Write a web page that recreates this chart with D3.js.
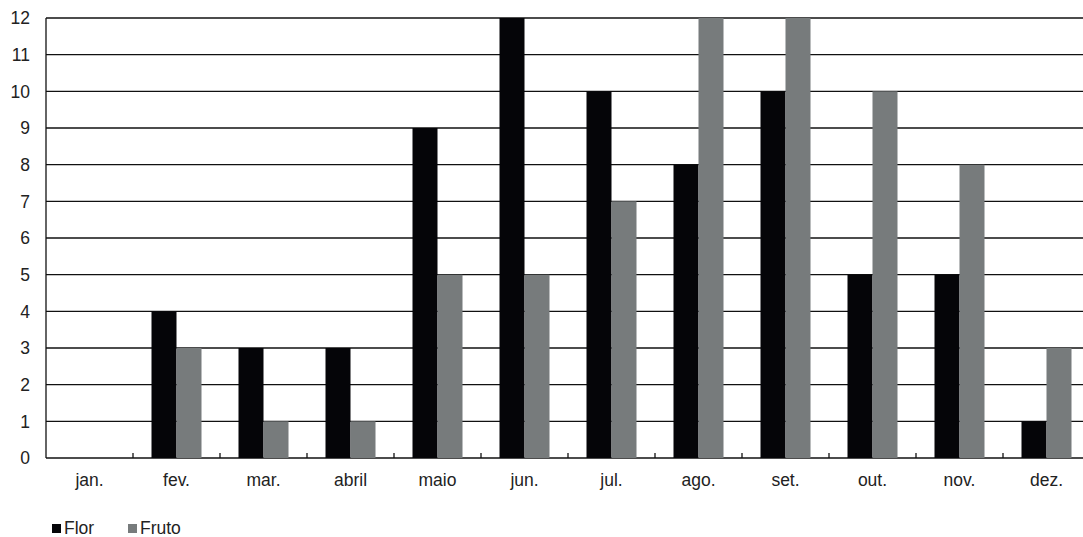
<!DOCTYPE html>
<html>
<head>
<meta charset="utf-8">
<script src="https://cdn.jsdelivr.net/npm/d3@7"></script>
<style>
  body { margin: 0; background: #fff; }
  text { font-family: "Liberation Sans", Arial, sans-serif; fill: #222; }
</style>
</head>
<body>
<div class="chart"></div>
<script>
const months = ["jan.", "fev.", "mar.", "abril", "maio", "jun.", "jul.", "ago.", "set.", "out.", "nov.", "dez."];
const series = ["Flor", "Fruto"];
const florValues = [0, 4, 3, 3, 9, 12, 10, 8, 10, 5, 5, 1];
const frutoValues = [0, 3, 1, 1, 5, 5, 7, 12, 12, 10, 8, 3];
const yTicks = [0, 1, 2, 3, 4, 5, 6, 7, 8, 9, 10, 11, 12];
const colors = ["#050508", "#777b7c"];

drawChart();

function drawChart() {
  const width = 1083,
    height = 537,
    left = 46,
    top = 18,
    bottom = 458,
    step = 87;

  const rows = months.map((m, i) => ({ month: m, Flor: florValues[i], Fruto: frutoValues[i] }));

  const svg = d3.select(".chart")
    .append("svg")
    .attr("width", width)
    .attr("height", height);

  const x = d3.scaleBand()
    .domain(months)
    .range([left, left + step * months.length])
    .padding(0);

  const x1 = d3.scaleBand()
    .domain(series)
    .range([0, x.bandwidth()])
    .paddingInner(0)
    .paddingOuter(0.74);

  const y = d3.scaleLinear()
    .domain([0, 12])
    .range([bottom, top]);

  const color = d3.scaleOrdinal().domain(series).range(colors);

  // gridlines
  svg.append("g")
    .selectAll("line")
    .data(yTicks)
    .join("line")
    .attr("x1", left)
    .attr("x2", width)
    .attr("y1", d => y(d))
    .attr("y2", d => y(d))
    .attr("stroke", "#111")
    .attr("stroke-width", 1.3);

  // bars
  svg.append("g")
    .selectAll("g")
    .data(rows)
    .join("g")
    .attr("transform", d => `translate(${x(d.month)},0)`)
    .selectAll("rect")
    .data(d => series.map(s => ({ key: s, value: d[s] })))
    .join("rect")
    .attr("x", d => x1(d.key))
    .attr("width", x1.bandwidth())
    .attr("y", d => y(d.value))
    .attr("height", d => bottom - y(d.value))
    .attr("fill", d => color(d.key));

  // y axis line
  svg.append("line")
    .attr("x1", left).attr("x2", left)
    .attr("y1", top).attr("y2", bottom)
    .attr("stroke", "#111")
    .attr("stroke-width", 1.3);

  // category tick marks, pointing up into the plot
  svg.append("g")
    .selectAll("line")
    .data(months.slice(1))
    .join("line")
    .attr("x1", d => x(d))
    .attr("x2", d => x(d))
    .attr("y1", bottom - 5)
    .attr("y2", bottom)
    .attr("stroke", "#111")
    .attr("stroke-width", 1.3);

  // y labels
  svg.append("g")
    .selectAll("text")
    .data(yTicks)
    .join("text")
    .attr("x", 30)
    .attr("y", d => y(d))
    .attr("dy", "0.36em")
    .attr("text-anchor", "end")
    .style("font-size", "17.5px")
    .text(d => d);

  // x labels
  svg.append("g")
    .selectAll("text")
    .data(months)
    .join("text")
    .attr("x", d => x(d) + x.bandwidth() / 2)
    .attr("y", 486)
    .attr("text-anchor", "middle")
    .style("font-size", "17.5px")
    .text(d => d);

  // legend
  const legendX = [52, 128];
  const legend = svg.append("g")
    .selectAll("g")
    .data(series)
    .join("g")
    .attr("transform", (d, i) => `translate(${legendX[i]},524)`);

  legend.append("rect")
    .attr("width", 9)
    .attr("height", 9)
    .attr("fill", d => color(d));

  legend.append("text")
    .attr("x", 12)
    .attr("y", 10)
    .style("font-size", "17.5px")
    .text(d => d);
}
</script>
</body>
</html>
